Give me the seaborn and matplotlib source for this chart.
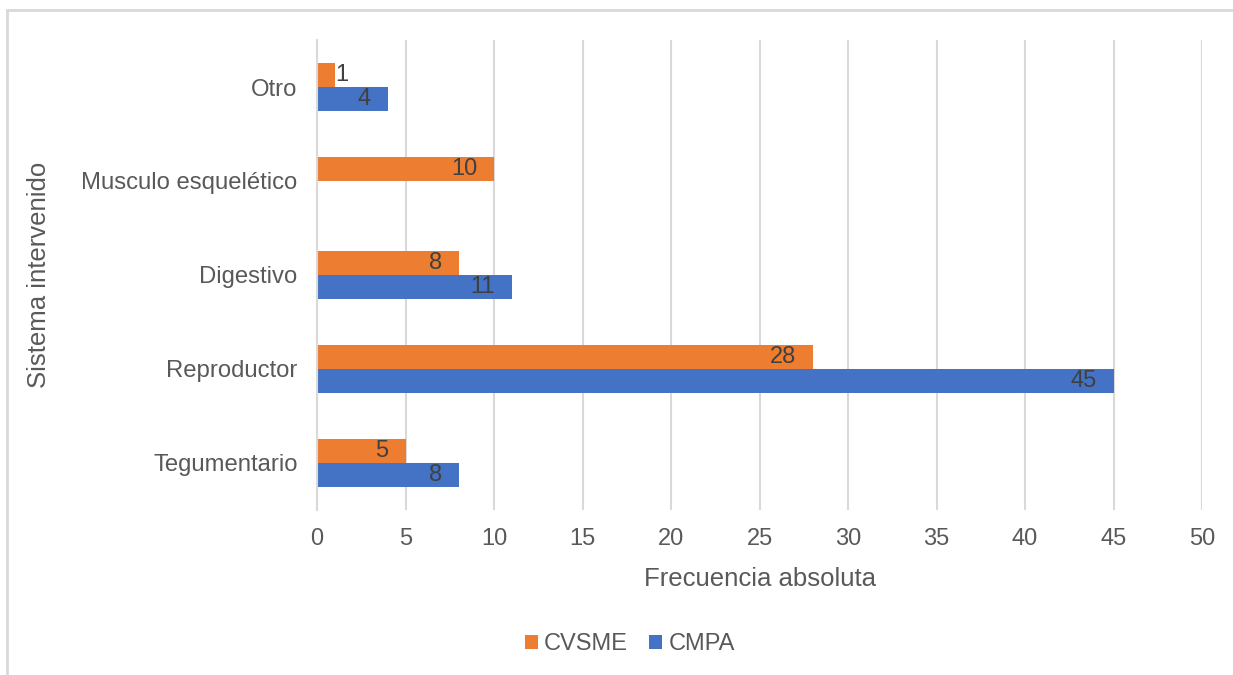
import numpy as np
import pandas as pd
import seaborn as sns
import matplotlib.pyplot as plt
from matplotlib.patches import Patch, Rectangle

# Data
categories = ["Otro", "Musculo esquelético", "Digestivo", "Reproductor", "Tegumentario"]
series = ["CVSME", "CMPA"]
cvsme = [1, 10, 8, 28, 5]
cmpa = [4, np.nan, 11, 45, 8]
x_ticks = [0, 5, 10, 15, 20, 25, 30, 35, 40, 45, 50]

colors = {"CVSME": "#ED7D31", "CMPA": "#4472C4"}
text_gray = "#595959"
label_gray = "#404040"
grid_gray = "#D9D9D9"

df = pd.DataFrame({
    "Sistema": categories * 2,
    "Serie": ["CVSME"] * len(categories) + ["CMPA"] * len(categories),
    "Frecuencia": cvsme + cmpa,
})

sns.set_theme(style="white")
plt.rcParams["font.family"] = ["Liberation Sans", "DejaVu Sans"]

fig = plt.figure(figsize=(12.33, 6.75), dpi=100)
ax = fig.add_axes([317 / 1233, 1 - 510 / 675, (1202 - 317) / 1233, (510 - 40) / 675])

sns.barplot(
    data=df.dropna(), y="Sistema", x="Frecuencia", hue="Serie",
    order=categories, hue_order=series, palette=colors,
    orient="h", width=0.51, gap=0, saturation=1, errorbar=None,
    linewidth=0, legend=False, ax=ax,
)

# Value labels at the inside end of each bar
for container in ax.containers:
    for patch in container.patches:
        val = patch.get_width()
        yc = patch.get_y() + patch.get_height() / 2
        if val < 2:
            ax.text(val + 0.03, yc, f"{val:.0f}", ha="left", va="center",
                    fontsize=17, color=label_gray)
        else:
            ax.text(val - 0.95, yc, f"{val:.0f}", ha="right", va="center",
                    fontsize=17, color=label_gray)

ax.set_xlim(0, 50)
ax.set_xticks(x_ticks)
ax.set_xticklabels([str(t) for t in x_ticks])
ax.grid(axis="x", color=grid_gray, linewidth=1.5)
ax.grid(axis="y", visible=False)
ax.set_axisbelow(True)
for side in ["top", "right", "bottom"]:
    ax.spines[side].set_visible(False)
ax.spines["left"].set_color(grid_gray)
ax.spines["left"].set_linewidth(1.5)

ax.tick_params(axis="x", length=0, pad=13, labelsize=17, labelcolor=text_gray)
ax.tick_params(axis="y", length=0, pad=14, labelsize=17.2, labelcolor=text_gray)

ax.set_xlabel("Frecuencia absoluta", fontsize=18.5, color=text_gray, labelpad=12)
ax.set_ylabel("Sistema intervenido", fontsize=18.5, color=text_gray, labelpad=22)

# Legend below the plot
handles = [Patch(facecolor=colors[s], edgecolor="none", label=s) for s in series]
fig.legend(
    handles=handles, loc="center", bbox_to_anchor=(630 / 1233, 1 - 644 / 675),
    ncol=2, frameon=False, fontsize=17, labelcolor=text_gray,
    handlelength=0.55, handleheight=0.55, handletextpad=0.25, columnspacing=0.9,
)

# Chart area border
fig.patches.append(Rectangle(
    (7 / 1233, -0.2), 1.2, 1 - 10 / 675 + 0.2, transform=fig.transFigure,
    fill=False, edgecolor=grid_gray, linewidth=2, clip_on=False,
))

fig.savefig("out.png", dpi=100)
